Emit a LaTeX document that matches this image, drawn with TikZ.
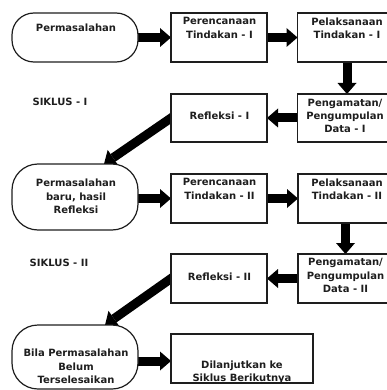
\documentclass[tikz,border=0pt]{standalone}
\usepackage{fontspec}
\setmainfont{DejaVu Sans}
\usetikzlibrary{arrows.meta,calc,backgrounds}
\definecolor{ink}{HTML}{1E1E1E}
\begin{document}
\begin{tikzpicture}[x=1pt,y=-1pt,
  sqbox/.style={draw=ink,line width=1.2pt,fill=white,inner sep=0pt,outer sep=0pt,rectangle},
  rdbox/.style={sqbox,rounded corners=#1},
  lbl/.style={align=center,text=ink,inner sep=0pt,font=\bfseries\fontsize{10}{13.3}\selectfont},
  bigarrow/.style={draw=black,line width=9pt,-{Triangle[length=11pt,width=19pt,line width=0pt]}}]
\useasboundingbox (0,0) rectangle (387,390);
\clip (0,0) rectangle (387,390);

% boxes
\node[rdbox=22pt, minimum width=126pt, minimum height=49pt] (b1) at (75,37.5) {};
\node[sqbox, minimum width=96pt, minimum height=49pt] (pr1) at (219,37.5) {};
\node[sqbox, minimum width=95pt, minimum height=49pt] (pl1) at (345,37.5) {};
\node[sqbox, minimum width=95pt, minimum height=48pt] (pg1) at (345,118) {};
\node[sqbox, minimum width=96pt, minimum height=48pt] (rf1) at (219,118) {};

\node[rdbox=26pt, minimum width=126pt, minimum height=66pt] (b2) at (75,197) {};
\node[sqbox, minimum width=96pt, minimum height=49pt] (pr2) at (219,198.5) {};
\node[sqbox, minimum width=95pt, minimum height=49pt] (pl2) at (345.5,198.5) {};
\node[sqbox, minimum width=95pt, minimum height=49pt] (pg2) at (345.5,278.5) {};
\node[sqbox, minimum width=96pt, minimum height=49pt] (rf2) at (219,278.5) {};

\node[rdbox=26pt, minimum width=126pt, minimum height=64pt] (b3) at (75,357) {};
\node[sqbox, minimum width=142pt, minimum height=49pt] (dl) at (242,358.5) {};

% texts
\node[lbl] (tb1) at (76,28) {Permasalahan};
\node[lbl] (tpr1) at (219.5,28) {Perencanaan\\Tindakan - I};
\node[lbl] (tpl1) at (347,28) {Pelaksanaan\\Tindakan - I};
\node[lbl] (tpg1) at (345,116) {Pengamatan/\\Pengumpulan\\Data - I};
\node[lbl] (trf1) at (219.5,116) {Refleksi - I};
\node[lbl] (ts1) at (60,102) {SIKLUS - I};

\node[lbl] (tb2) at (76,196.5) {Permasalahan\\baru, hasil\\Refleksi};
\node[lbl] (tpr2) at (219.5,189) {Perencanaan\\Tindakan - II};
\node[lbl] (tpl2) at (347,189) {Pelaksanaan\\Tindakan - II};
\node[lbl] (tpg2) at (345.5,275.5) {Pengamatan/\\Pengumpulan\\Data - II};
\node[lbl] (trf2) at (219.5,277) {Refleksi - II};
\node[lbl] (ts2) at (59,263) {SIKLUS - II};

\node[lbl] (tb3) at (76,366.5) {Bila Permasalahan\\Belum\\Terselesaikan};
\node[lbl] (tdl) at (242,372.5) {Dilanjutkan ke\\Siklus Berikutnya};

\coordinate (t1) at ($(b2.north)+(29,0)$);
\coordinate (t2) at ($(b3.north)+(30,0)$);

% arrows
\begin{pgfonlayer}{background}
\draw[bigarrow] (b1.east) -- (pr1.west);
\draw[bigarrow] (pr1.east) -- (pl1.west);
\draw[bigarrow] ($(pl1.south)+(2,0)$) -- ($(pg1.north)+(2,0)$);
\draw[bigarrow] (pg1.west) -- (rf1.east);
\draw[bigarrow] ($(rf1.west)!-8pt!(t1)$) -- (t1);
\draw[bigarrow] (pr2.west -| b2.east) -- (pr2.west);
\draw[bigarrow] (pr2.east) -- (pl2.west);
\draw[bigarrow] (pl2.south) -- (pg2.north);
\draw[bigarrow] (pg2.west) -- (rf2.east);
\draw[bigarrow] ($(rf2.west)!-8pt!(t2)$) -- (t2);
\draw[bigarrow] ($(dl.west -| b3.east)+(0,2.5)$) -- ($(dl.west)+(0,2.5)$);
\end{pgfonlayer}
\end{tikzpicture}
\end{document}
